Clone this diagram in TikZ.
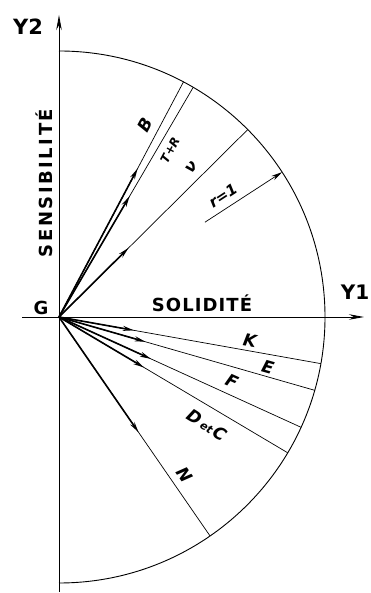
\documentclass[tikz,border=0pt]{standalone}
\usepackage{fontspec}
\setmainfont{DejaVu Sans}
\usetikzlibrary{arrows.meta}
\begin{document}
\begin{tikzpicture}[x=1pt,y=1pt,
  radial/.style={line width=0.7pt},
  vec/.style={line width=1.6pt, -{Stealth[length=11pt,width=5pt]}},
  axisline/.style={line width=0.9pt, -{Stealth[length=15pt,width=5.5pt]}},
  lab/.style={font=\bfseries\itshape\fontsize{17}{17}\selectfont, inner sep=0pt},
  caps/.style={font=\bfseries\fontsize{19}{19}\selectfont, inner sep=0pt}]
\useasboundingbox (0,0) rectangle (370,593);
\def\R{266pt}
\coordinate (G) at (59,276);
\coordinate (Ytop) at (59,578);
\coordinate (Ybot) at (59,1);
\coordinate (Xl) at (22,276);
\coordinate (Xr) at (364,276);
\draw[axisline] (Ybot) -- (Ytop);
\draw[axisline] (Xl) -- (Xr);
\coordinate (arctop) at ([shift={(90:\R)}]G);
\draw[line width=0.9pt] (arctop) arc[start angle=90,end angle=-90,radius=\R];
% radial lines
\foreach \n/\a in {B/62.1, TR/59.7, V/44.8, K/-10.1, E/-16, F/-24.5, D/-30.7, N/-55.4}{
  \coordinate (\n end) at ([shift={(\a:\R)}]G);
  \draw[radial] (G) -- (\n end);
}
% vectors
\foreach \n/\a/\l in {B/62.1/168, TR/59.7/140, V/44.8/98, K/-10.1/76, E/-16/90, F/-24.5/101, D/-30.7/99, N/-55.4/140}{
  \coordinate (\n tip) at ([shift={(\a:\l pt)}]G);
  \draw[vec] (G) -- (\n tip);
}
% radius r=1
\coordinate (rstart) at ([shift={(33:174pt)}]G);
\coordinate (rend) at ([shift={(33:\R)}]G);
\draw[radial, -{Stealth[length=11pt,width=5pt]}] (rstart) -- (rend);
% labels
\node[caps, font=\bfseries\fontsize{21}{21}\selectfont] (y2) at (28,566) {Y2};
\node[caps, font=\bfseries\fontsize{20}{20}\selectfont] (y1) at (355,301) {Y1};
\node[caps, font=\bfseries\fontsize{18}{18}\selectfont] (g) at (41,285) {G};
\node[caps, rotate=90, font=\bfseries\fontsize{18}{18}\selectfont\addfontfeature{LetterSpace=14}] (sens) at (44,410) {SENSIBILITÉ};
\node[caps, font=\bfseries\fontsize{18}{18}\selectfont\addfontfeature{LetterSpace=6}] (sol) at (202,290) {SOLIDITÉ};
\node[lab, rotate=62] (lB) at (145,468) {B};
\node[lab, rotate=62, font=\bfseries\itshape\fontsize{12}{12}\selectfont] (lTR) at (170,443) {T+R};
\node[lab, rotate=50, font=\bfseries\itshape\fontsize{16}{16}\selectfont] (lV) at (192,425) {ν};
\node[lab, rotate=33, font=\bfseries\itshape\fontsize{15}{15}\selectfont] (lr) at (223,397) {r=1};
\node[lab, rotate=-10] (lK) at (250,252) {K};
\node[lab, rotate=-16] (lE) at (268,226) {E};
\node[lab, rotate=-24] (lF) at (232,212) {F};
\node[lab, rotate=-32] (lD) at (207,168) {D{\fontsize{11}{11}\selectfont\,et\,}C};
\node[lab, rotate=-55] (lN) at (185,118) {N};
\end{tikzpicture}
\end{document}
